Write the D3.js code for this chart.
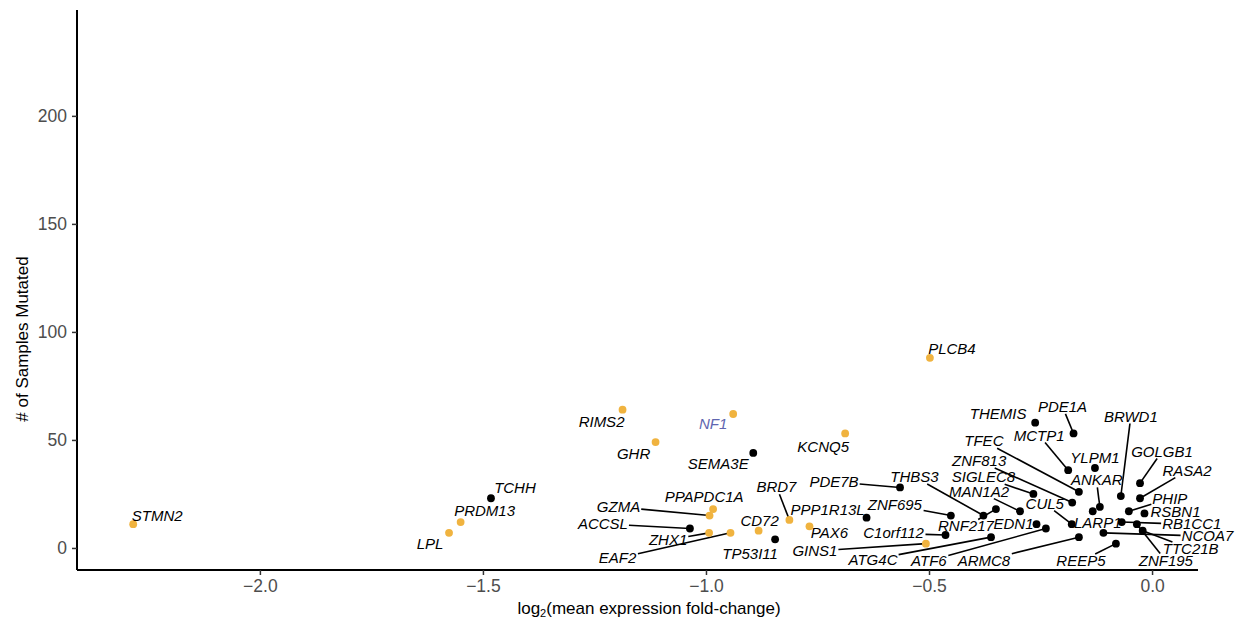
<!DOCTYPE html>
<html>
<head>
<meta charset="utf-8">
<script src="https://cdn.jsdelivr.net/npm/d3@7"></script>
<style>
  body { margin: 0; background: #fff; }
  text { font-family: "Liberation Sans", Arial, Helvetica, sans-serif; }
</style>
</head>
<body>
<script>
// gene, log2 fold-change, # samples mutated, highlighted (orange)
const genes = ["STMN2","LPL","PRDM13","TCHH","RIMS2","NF1","GHR","SEMA3E","KCNQ5","PLCB4",
  "PPAPDC1A","GZMA","ACCSL","ZHX1","EAF2","CD72","TP53I11","BRD7","PAX6","PPP1R13L",
  "GINS1","PDE7B","ZNF695","C1orf112","THBS3","RNF217","ATG4C","MAN1A2","SIGLEC8","EDN1",
  "ATF6","THEMIS","PDE1A","MCTP1","TFEC","ZNF813","CUL5","ARMC8","YLPM1","ANKAR",
  "LARP1","NCOA7","REEP5","BRWD1","RB1CC1","PHIP","GOLGB1","RASA2","RSBN1","ZNF195","TTC21B"];
const logFC = [-2.284,-1.576,-1.550,-1.482,-1.187,-0.939,-1.113,-0.894,-0.688,-0.498,
  -0.984,-0.992,-1.036,-0.993,-0.945,-0.882,-0.845,-0.813,-0.768,-0.640,
  -0.507,-0.565,-0.451,-0.463,-0.378,-0.350,-0.361,-0.296,-0.266,-0.259,
  -0.238,-0.262,-0.176,-0.188,-0.164,-0.179,-0.180,-0.164,-0.128,-0.117,
  -0.133,-0.109,-0.081,-0.070,-0.068,-0.052,-0.027,-0.027,-0.017,-0.034,-0.021];
const nMutated = [11,7,12,23,64,62,49,44,53,88,
  18,15,9,7,7,8,4,13,10,14,
  2,28,15,6,15,18,5,17,25,11,
  9,58,53,36,26,21,11,5,37,19,
  17,7,2,24,12,17,30,23,16,11,8];
const highlighted = ["STMN2","LPL","PRDM13","RIMS2","NF1","GHR","KCNQ5","PLCB4","PPAPDC1A",
  "GZMA","ZHX1","EAF2","CD72","BRD7","PAX6","GINS1"];
const xTicks = [-2.0, -1.5, -1.0, -0.5, 0.0];
const yTicks = [0, 50, 100, 150, 200];

// repelled label placement (pixel offset of label centre from its point)
const labelNudge = {
  STMN2:[24,-9], LPL:[-19,11], PRDM13:[24,-11], TCHH:[24,-11], RIMS2:[-21,12], NF1:[-20,10],
  GHR:[-22,12], SEMA3E:[-35,11], KCNQ5:[-22,13], PLCB4:[22,-9], PPAPDC1A:[-9,-12],
  GZMA:[-91,-9], ACCSL:[-87,-5], ZHX1:[-41,7], EAF2:[-113,25], CD72:[1,-10], TP53I11:[-25,14],
  BRD7:[-13,-33], PAX6:[20,6], PPP1R13L:[-39,-8], GINS1:[-111,7], PDE7B:[-66,-6],
  ZNF695:[-56,-11], C1orf112:[-52,-2], THBS3:[-69,-39], RNF217:[-30,17], ATG4C:[-118,22],
  MAN1A2:[-41,-20], SIGLEC8:[-50,-17], EDN1:[-23,-1], ATF6:[-117,32], THEMIS:[-37,-9],
  PDE1A:[-11,-27], MCTP1:[-29,-35], TFEC:[-95,-51], ZNF813:[-93,-42], CUL5:[-27,-21],
  ARMC8:[-95,23], YLPM1:[0,-10], ANKAR:[-3,-27], LARP1:[5,11], NCOA7:[104,3], REEP5:[-35,17],
  BRWD1:[10,-80], RB1CC1:[70,2], PHIP:[41,-13], GOLGB1:[22,-32], RASA2:[47,-28],
  RSBN1:[31,-2], ZNF195:[29,36], TTC21B:[48,18]
};

const width = 1243, height = 621;
const panel = { left: 77, right: 1198, top: 10, bottom: 570 };
const orange = "#F0B33F", labelBlue = "#6066B0";

const data = genes.map((g, i) => ({ gene: g, fc: logFC[i], n: nMutated[i], hi: highlighted.includes(g) }));

const svg = d3.select("body").append("svg")
  .attr("width", width)
  .attr("height", height);

const x = d3.scaleLinear().domain([-2.41, 0.103]).range([panel.left, panel.right]);
const y = d3.scaleLinear().domain([-10.2, 249]).range([panel.bottom, panel.top]);

// axes
const xAxis = svg.append("g")
  .attr("transform", `translate(0,${panel.bottom})`)
  .call(d3.axisBottom(x).tickValues(xTicks).tickSize(5).tickPadding(5).tickSizeOuter(0));
const yAxis = svg.append("g")
  .attr("transform", `translate(${panel.left},0)`)
  .call(d3.axisLeft(y).tickValues(yTicks).tickSize(5).tickPadding(5).tickSizeOuter(0));

[xAxis, yAxis].forEach(ax => {
  ax.select(".domain").attr("stroke", "#000").attr("stroke-width", 2);
  ax.selectAll(".tick line").attr("stroke", "#333").attr("stroke-width", 1.5);
  ax.selectAll(".tick text")
    .attr("fill", "#4d4d4d")
    .style("font-size", "17.5px")
    .style("font-family", "'Liberation Sans', Arial, sans-serif");
});
xAxis.selectAll(".tick text").text(d => d3.format(".1f")(d).replace("-", "\u2212"));
yAxis.selectAll(".tick text").text(d => d);
yAxis.select(".domain").attr("d", `M0,${panel.top}V${panel.bottom}`);
xAxis.select(".domain").attr("d", `M${panel.left},0H${panel.right}`);

// axis titles
const xTitle = svg.append("text")
  .attr("x", 649)
  .attr("y", 614)
  .attr("text-anchor", "middle")
  .style("font-size", "17px");
xTitle.append("tspan").text("log");
xTitle.append("tspan").attr("baseline-shift", "-25%").style("font-size", "11px").text("2");
xTitle.append("tspan").text("(mean expression fold-change)");

svg.append("text")
  .attr("transform", `translate(28,339) rotate(-90)`)
  .attr("text-anchor", "middle")
  .style("font-size", "17px")
  .text("# of Samples Mutated");

// points
const segLayer = svg.append("g");
svg.append("g").selectAll("circle")
  .data(data)
  .join("circle")
  .attr("cx", d => x(d.fc))
  .attr("cy", d => y(d.n))
  .attr("r", 3.9)
  .attr("fill", d => d.hi ? orange : "#000");

// labels
const labels = svg.append("g").selectAll("text")
  .data(data)
  .join("text")
  .attr("x", d => x(d.fc) + labelNudge[d.gene][0])
  .attr("y", d => y(d.n) + labelNudge[d.gene][1])
  .attr("dy", "0.36em")
  .attr("text-anchor", "middle")
  .style("font-size", "15px")
  .style("font-style", "italic")
  .attr("fill", d => d.gene === "NF1" ? labelBlue : "#000")
  .text(d => d.gene);

// segments: from the point toward the label centre, stopping at the label box
labels.each(function(d) {
  const b = this.getBBox();
  const px = x(d.fc), py = y(d.n);
  const cx = b.x + b.width / 2, cy = b.y + b.height / 2 + 0.5;
  const hw = b.width / 2 + 1, hh = b.height / 2 - 1.5;
  const dx = cx - px, dy = cy - py;
  const sx = Math.abs(dx) > hw ? (Math.abs(dx) - hw) / Math.abs(dx) : 0;
  const sy = Math.abs(dy) > hh ? (Math.abs(dy) - hh) / Math.abs(dy) : 0;
  const s = Math.max(sx, sy);
  const ex = px + s * dx, ey = py + s * dy;
  if (Math.hypot(ex - px, ey - py) > 17) {
    segLayer.append("line")
      .attr("x1", px).attr("y1", py)
      .attr("x2", ex).attr("y2", ey)
      .attr("stroke", "#000")
      .attr("stroke-width", 1.6);
  }
});
</script>
</body>
</html>
